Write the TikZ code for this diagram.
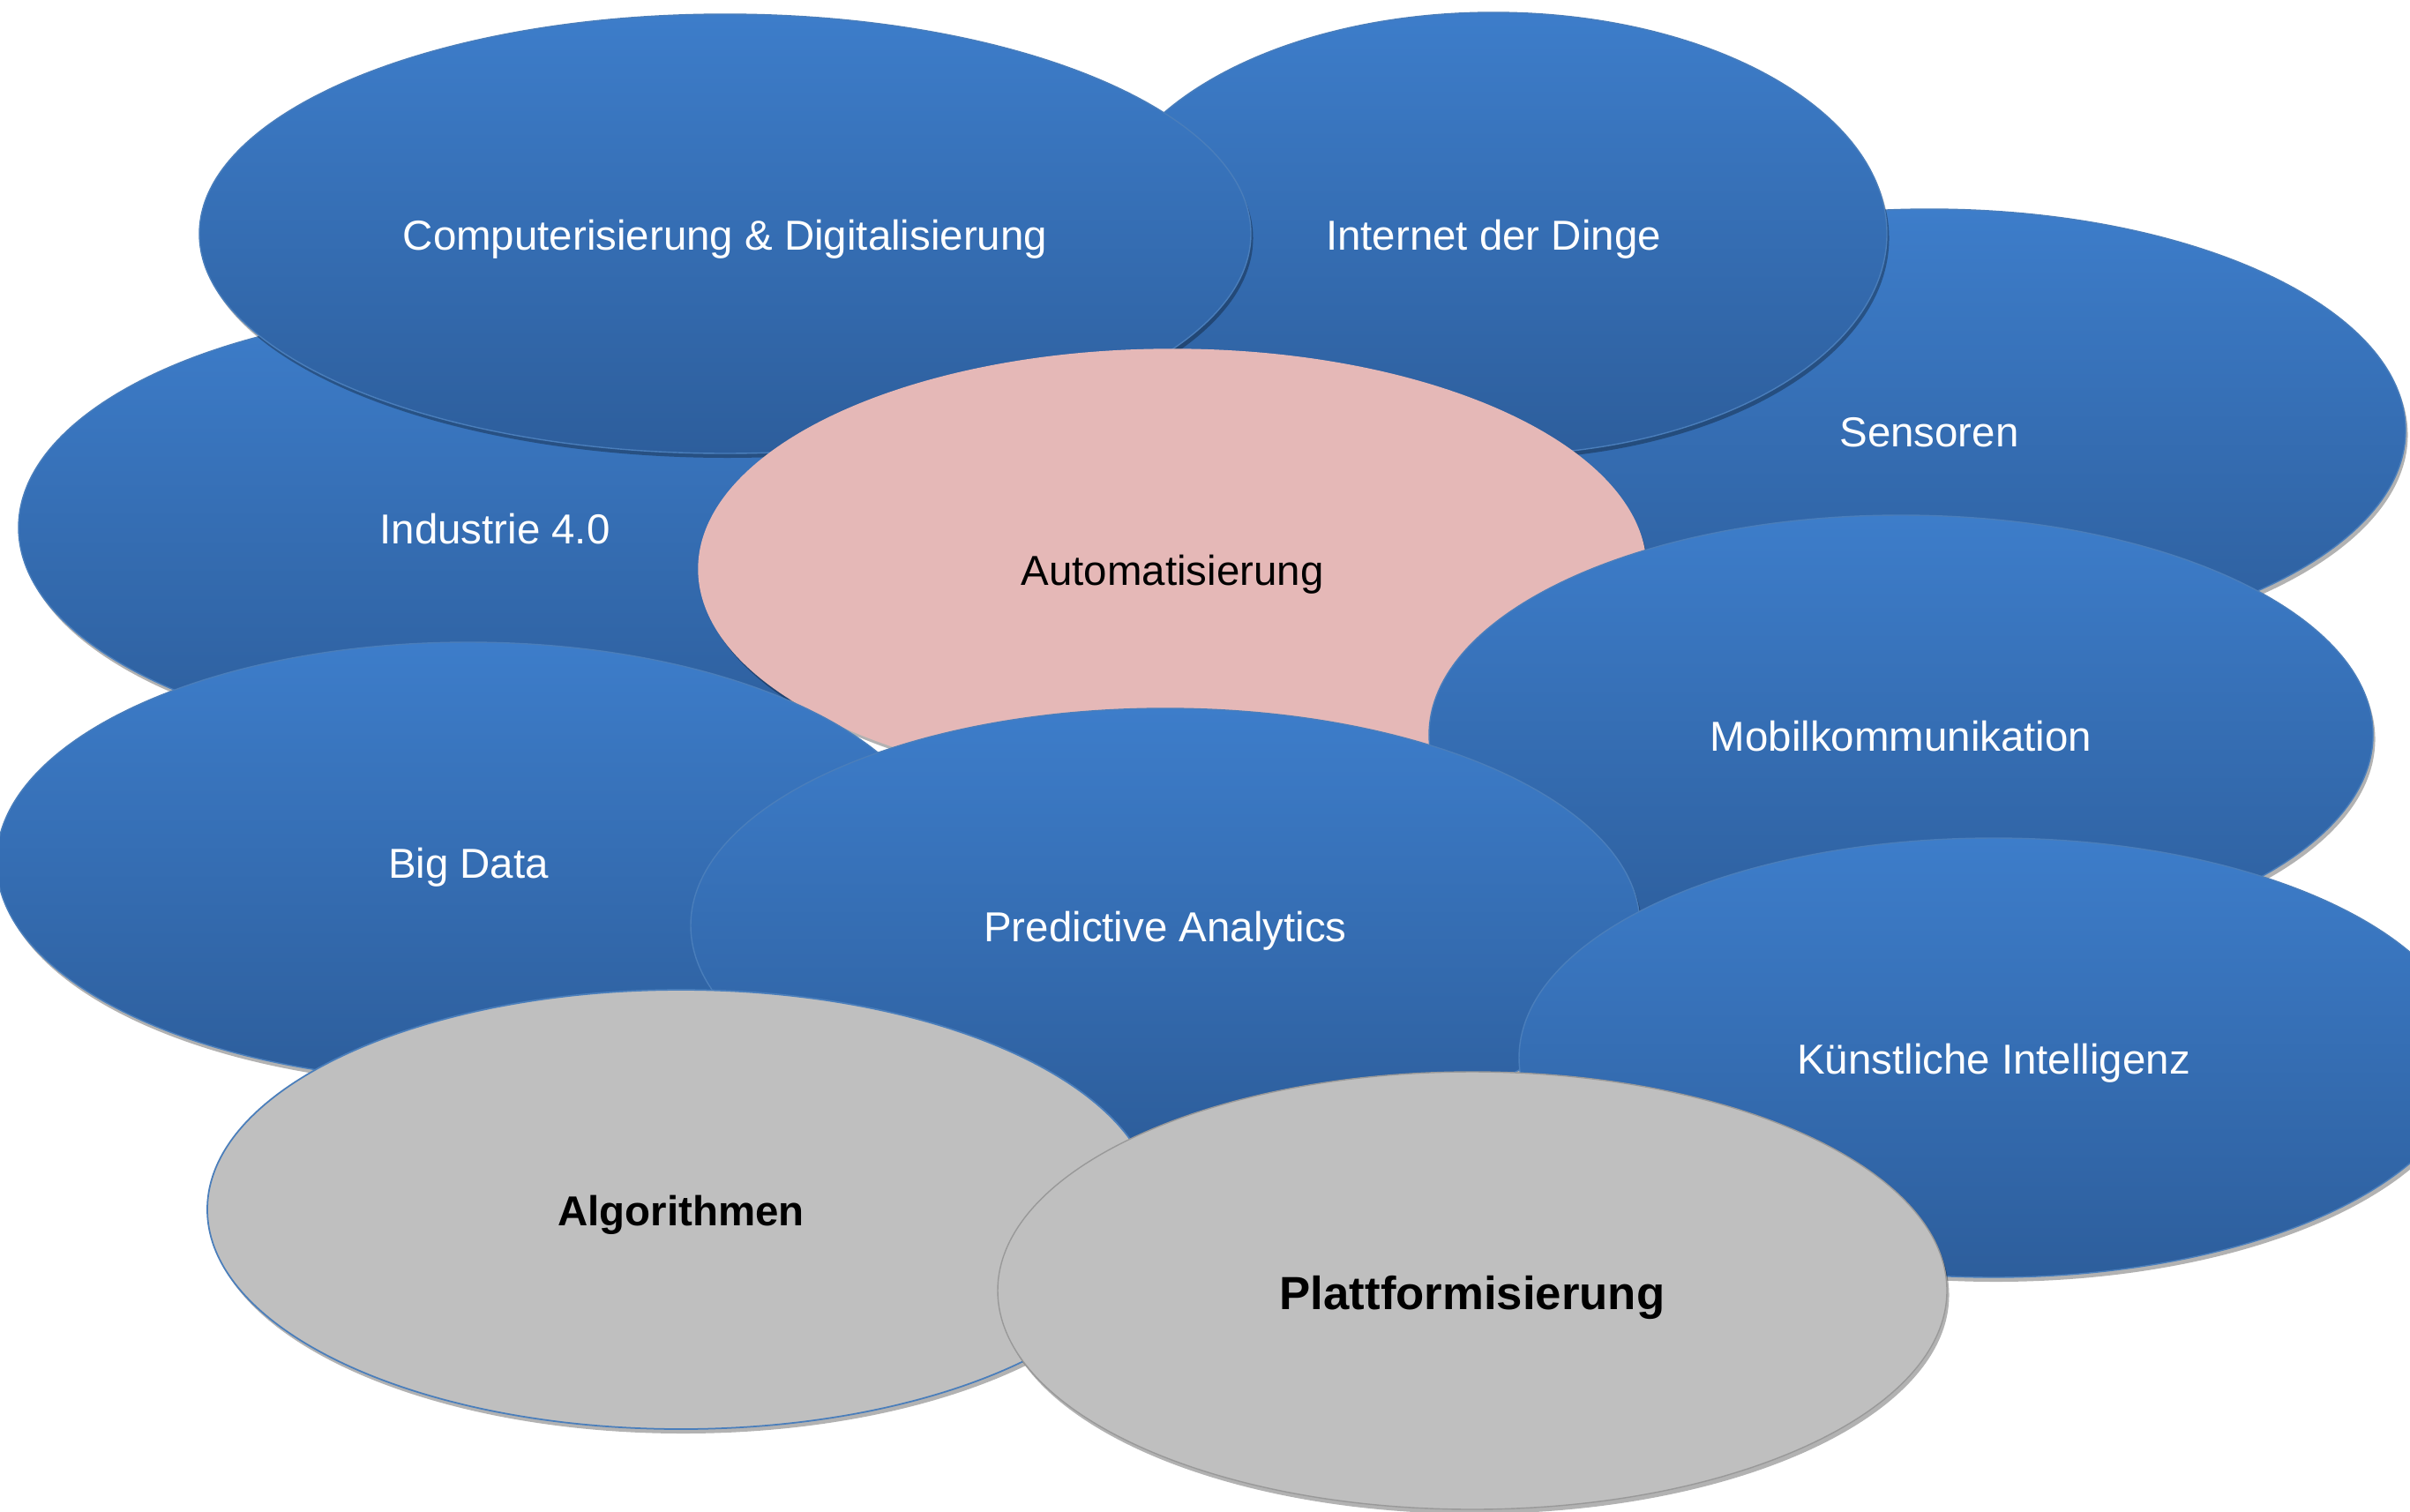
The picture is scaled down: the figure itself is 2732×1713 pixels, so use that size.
\documentclass[tikz,border=0pt]{standalone}
\usepackage{fontspec}
\setmainfont{Liberation Sans}
\usetikzlibrary{shapes.geometric,shadows}
\definecolor{bluetop}{HTML}{3D7DCA}
\definecolor{bluebot}{HTML}{2D5E9C}
\definecolor{blueedge}{HTML}{4A7EBB}
\definecolor{pinkfill}{HTML}{E5B8B7}
\definecolor{grayfill}{HTML}{BFBFBF}
\tikzset{
  oval/.style={ellipse, inner sep=0pt, text height=3.6mm, text depth=0pt,
    drop shadow={shadow xshift=0.25mm, shadow yshift=-0.5mm, opacity=0.3, fill=black},
    font=\fontsize{13.5}{16}\selectfont},
  blueoval/.style={oval, top color=bluetop, bottom color=bluebot, draw=blueedge, line width=0.4pt, text=white},
  pinkoval/.style={oval, fill=pinkfill, draw=pinkfill, text=black},
  grayoval/.style={oval, fill=grayfill, text=black},
}
\begin{document}
\begin{tikzpicture}[x=0.1mm, y=-0.1mm]
\useasboundingbox (0,0) rectangle (2732,1713);
\clip (0,0) rectangle (2732,1713);
\node[blueoval, minimum width=108mm, minimum height=50.2mm] (sens) at (2187,488) {Sensoren};
\node[blueoval, minimum width=108mm, minimum height=49.8mm] (ind) at (561,598) {Industrie 4.0};
\node[blueoval, minimum width=89.2mm, minimum height=50.2mm] (iot) at (1693,265) {Internet der Dinge};
\node[blueoval, minimum width=119.2mm, minimum height=49.8mm] (comp) at (822,265) {Computerisierung \& Digitalisierung};
\node[pinkoval, minimum width=107.4mm, minimum height=49.8mm] (auto) at (1329,645) {Automatisierung};
\node[blueoval, minimum width=107mm, minimum height=49.8mm] (mobil) at (2155,833) {Mobilkommunikation};
\node[blueoval, minimum width=107mm, minimum height=49.8mm] (big) at (531,977) {Big Data};
\node[blueoval, minimum width=107.6mm, minimum height=49.2mm] (pred) at (1321,1049) {Predictive Analytics};
\node[blueoval, minimum width=107.6mm, minimum height=49.8mm] (ki) at (2260,1199) {Künstliche Intelligenz};
\node[grayoval, draw=blueedge, line width=0.5pt, minimum width=107.4mm, minimum height=49.8mm] (algo) at (772,1371) {\bfseries Algorithmen};
\node[grayoval, draw=gray!80, line width=0.4pt, minimum width=107.6mm, minimum height=49.6mm, text height=4.2mm, font=\fontsize{15}{18}\selectfont\bfseries] (platt) at (1669,1463) {Plattformisierung};
\end{tikzpicture}
\end{document}
